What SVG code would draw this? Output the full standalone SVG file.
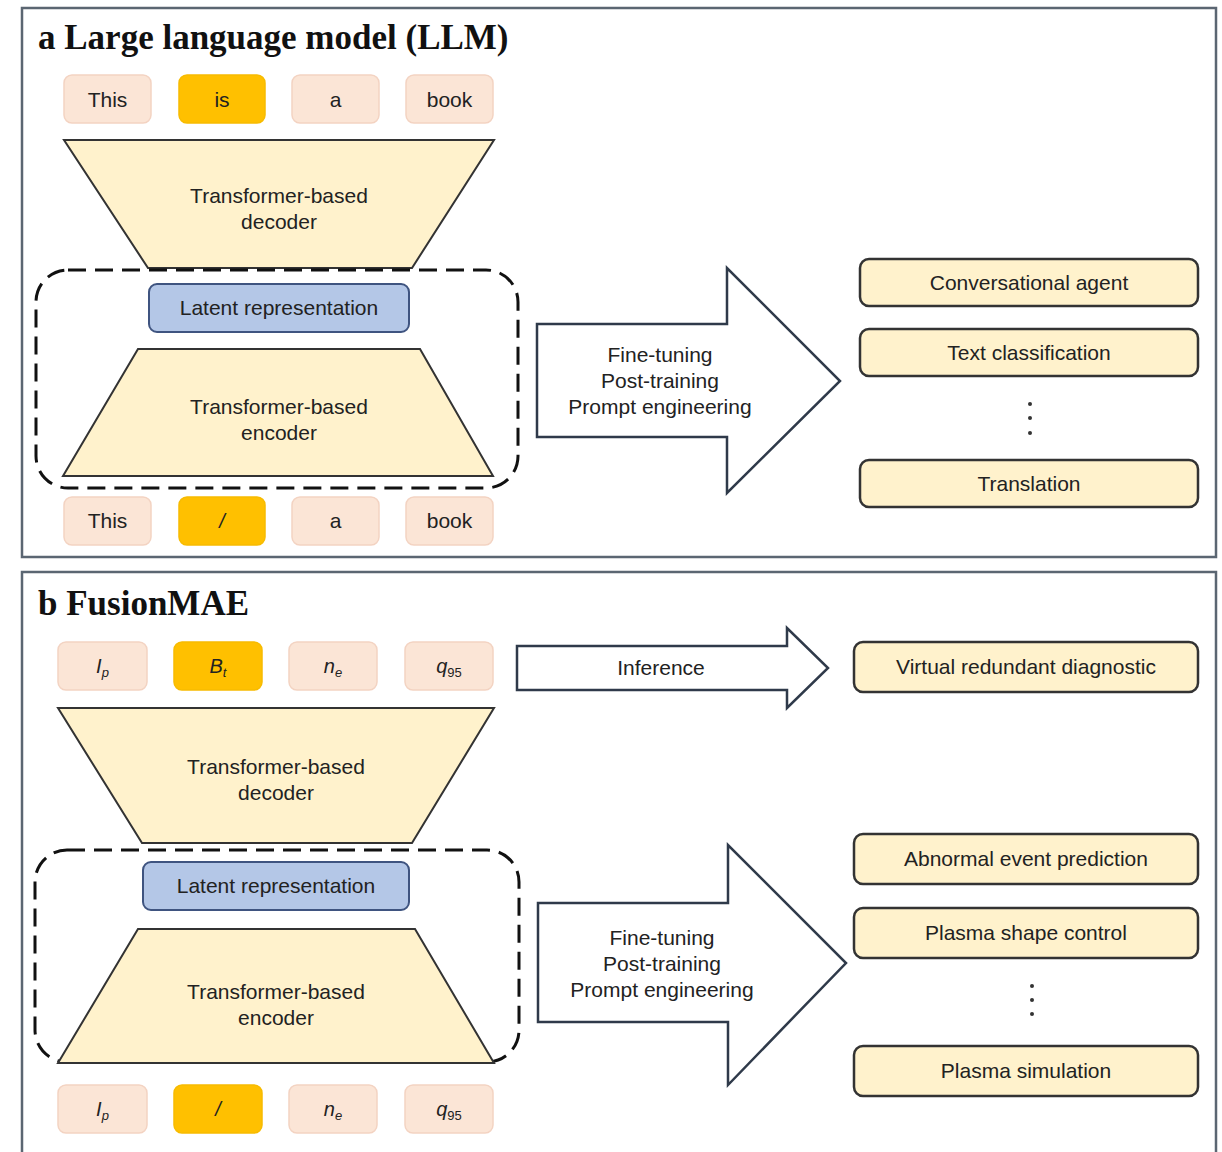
<svg xmlns="http://www.w3.org/2000/svg" width="1222" height="1152" viewBox="0 0 1222 1152">
<style>
.panel{fill:#fff;stroke:#5b6672;stroke-width:2.5}
.title{font-family:"Liberation Serif",serif;font-weight:bold;font-size:35px;fill:#111}
.t{font-family:"Liberation Sans",Arial,sans-serif;font-size:21px;fill:#222;text-anchor:middle}
.ti{font-family:"Liberation Sans",Arial,sans-serif;font-size:20px;fill:#222;text-anchor:middle;font-style:italic}
.tok{fill:#fbe5d6;stroke:#f3d3c2;stroke-width:1.5}
.hl{fill:#ffc000;stroke:#f7bb00;stroke-width:1.5}
.trap{fill:#fff2cc;stroke:#333;stroke-width:2}
.lat{fill:#b4c7e7;stroke:#3f5480;stroke-width:2}
.out{fill:#fff2cc;stroke:#333;stroke-width:2.5}
.dash{fill:none;stroke:#111;stroke-width:3;stroke-dasharray:18 9}
.arr{fill:#fff;stroke:#2f3a4a;stroke-width:2.5;stroke-linejoin:miter}
.dot{fill:#333}
</style>

<!-- Panel a -->
<rect id="panel-a" class="panel" x="22" y="8" width="1194" height="549"/>
<text class="title" x="38" y="49">a Large language model (LLM)</text>

<g id="a-tok-top-1"><rect class="tok" x="64" y="75" width="87" height="48" rx="8"/><text class="t" x="107.5" y="107">This</text></g>
<g id="a-tok-top-2"><rect class="hl" x="179" y="75" width="86" height="48" rx="8"/><text class="t" x="222" y="107">is</text></g>
<g id="a-tok-top-3"><rect class="tok" x="292" y="75" width="87" height="48" rx="8"/><text class="t" x="335.5" y="107">a</text></g>
<g id="a-tok-top-4"><rect class="tok" x="406" y="75" width="87" height="48" rx="8"/><text class="t" x="449.5" y="107">book</text></g>

<g id="a-decoder"><polygon class="trap" points="64,140 494,140 412,268 148,268"/><text class="t" x="279" y="203">Transformer-based</text><text class="t" x="279" y="229">decoder</text></g>

<g id="a-encoder-group"><rect class="dash" x="36" y="270" width="482" height="218" rx="32"/></g>
<g id="a-latent"><rect class="lat" x="149" y="284" width="260" height="48" rx="8"/><text class="t" x="279" y="315">Latent representation</text></g>
<g id="a-encoder"><polygon class="trap" points="138,349 420,349 493,476 63,476"/><text class="t" x="279" y="414">Transformer-based</text><text class="t" x="279" y="440">encoder</text></g>

<g id="a-tok-bot-1"><rect class="tok" x="64" y="497" width="87" height="48" rx="8"/><text class="t" x="107.5" y="528">This</text></g>
<g id="a-tok-bot-2"><rect class="hl" x="179" y="497" width="86" height="48" rx="8"/><text class="ti" x="222" y="528">/</text></g>
<g id="a-tok-bot-3"><rect class="tok" x="292" y="497" width="87" height="48" rx="8"/><text class="t" x="335.5" y="528">a</text></g>
<g id="a-tok-bot-4"><rect class="tok" x="406" y="497" width="87" height="48" rx="8"/><text class="t" x="449.5" y="528">book</text></g>

<g id="a-out-1"><rect class="out" x="860" y="259" width="338" height="47" rx="9"/><text class="t" x="1029" y="290">Conversational agent</text></g>
<g id="a-out-2"><rect class="out" x="860" y="329" width="338" height="47" rx="9"/><text class="t" x="1029" y="360">Text classification</text></g>
<g id="a-dots"><circle class="dot" cx="1030" cy="404" r="2"/><circle class="dot" cx="1030" cy="418" r="2"/><circle class="dot" cx="1030" cy="433" r="2"/></g>
<g id="a-out-3"><rect class="out" x="860" y="460" width="338" height="47" rx="9"/><text class="t" x="1029" y="491">Translation</text></g>

<!-- Panel b -->
<rect id="panel-b" class="panel" x="22" y="572" width="1194" height="590"/>
<text class="title" x="38" y="615">b FusionMAE</text>

<g id="b-tok-top-1"><rect class="tok" x="58" y="642" width="89" height="48" rx="8"/><text class="ti" x="102.5" y="673">I<tspan font-size="13" dy="4">p</tspan></text></g>
<g id="b-tok-top-2"><rect class="hl" x="174" y="642" width="88" height="48" rx="8"/><text class="ti" x="218" y="673">B<tspan font-size="13" dy="4">t</tspan></text></g>
<g id="b-tok-top-3"><rect class="tok" x="289" y="642" width="88" height="48" rx="8"/><text class="ti" x="333" y="673">n<tspan font-size="13" dy="4">e</tspan></text></g>
<g id="b-tok-top-4"><rect class="tok" x="405" y="642" width="88" height="48" rx="8"/><text class="ti" x="449" y="673">q<tspan font-size="13" dy="4" font-style="normal">95</tspan></text></g>

<g id="b-decoder"><polygon class="trap" points="58,708 494,708 412,843 142,843"/><text class="t" x="276" y="774">Transformer-based</text><text class="t" x="276" y="800">decoder</text></g>

<g id="b-encoder-group"><rect class="dash" x="35" y="850" width="484" height="212" rx="32"/></g>
<g id="b-latent"><rect class="lat" x="143" y="862" width="266" height="48" rx="8"/><text class="t" x="276" y="893">Latent representation</text></g>
<g id="b-encoder"><polygon class="trap" points="138,929 415,929 494,1063 58,1063"/><text class="t" x="276" y="999">Transformer-based</text><text class="t" x="276" y="1025">encoder</text></g>

<g id="b-tok-bot-1"><rect class="tok" x="58" y="1085" width="89" height="48" rx="8"/><text class="ti" x="102.5" y="1116">I<tspan font-size="13" dy="4">p</tspan></text></g>
<g id="b-tok-bot-2"><rect class="hl" x="174" y="1085" width="88" height="48" rx="8"/><text class="ti" x="218" y="1116">/</text></g>
<g id="b-tok-bot-3"><rect class="tok" x="289" y="1085" width="88" height="48" rx="8"/><text class="ti" x="333" y="1116">n<tspan font-size="13" dy="4">e</tspan></text></g>
<g id="b-tok-bot-4"><rect class="tok" x="405" y="1085" width="88" height="48" rx="8"/><text class="ti" x="449" y="1116">q<tspan font-size="13" dy="4" font-style="normal">95</tspan></text></g>

<g id="b-out-0"><rect class="out" x="854" y="642" width="344" height="50" rx="9"/><text class="t" x="1026" y="674">Virtual redundant diagnostic</text></g>
<g id="b-out-1"><rect class="out" x="854" y="834" width="344" height="50" rx="9"/><text class="t" x="1026" y="866">Abnormal event prediction</text></g>
<g id="b-out-2"><rect class="out" x="854" y="908" width="344" height="50" rx="9"/><text class="t" x="1026" y="940">Plasma shape control</text></g>
<g id="b-dots"><circle class="dot" cx="1032" cy="986" r="2"/><circle class="dot" cx="1032" cy="1000" r="2"/><circle class="dot" cx="1032" cy="1014" r="2"/></g>
<g id="b-out-3"><rect class="out" x="854" y="1046" width="344" height="50" rx="9"/><text class="t" x="1026" y="1078">Plasma simulation</text></g>

<!-- Connectors -->
<g id="connectors">
<g id="a-arrow"><polygon class="arr" points="537,324 727,324 727,268 840,381 727,493 727,437 537,437"/>
<text class="t" x="660" y="362">Fine-tuning</text><text class="t" x="660" y="388">Post-training</text><text class="t" x="660" y="414">Prompt engineering</text></g>
<g id="b-inference-arrow"><polygon class="arr" points="517,646 787,646 787,628 828,668 787,708 787,690 517,690"/>
<text class="t" x="661" y="675">Inference</text></g>
<g id="b-arrow"><polygon class="arr" points="538,903 728,903 728,845 846,963 728,1085 728,1022 538,1022"/>
<text class="t" x="662" y="945">Fine-tuning</text><text class="t" x="662" y="971">Post-training</text><text class="t" x="662" y="997">Prompt engineering</text></g>
</g>
</svg>
